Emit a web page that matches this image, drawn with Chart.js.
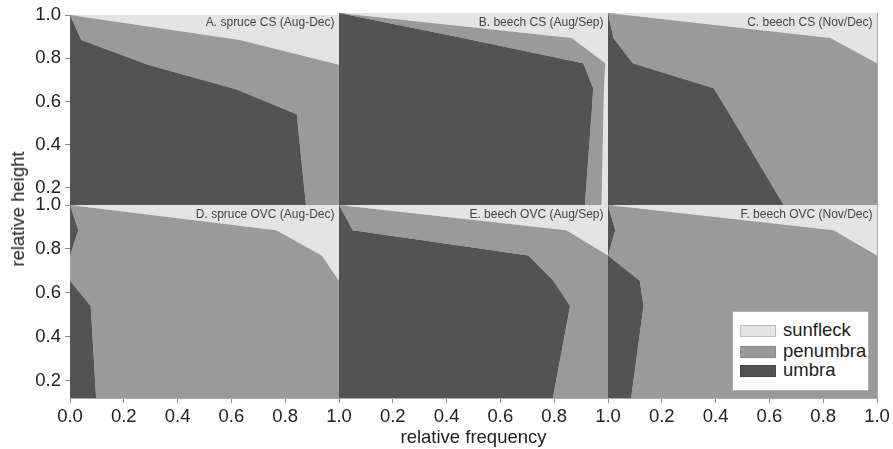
<!DOCTYPE html>
<html><head><meta charset="utf-8">
<script src="https://cdn.jsdelivr.net/npm/chart.js@4.4.1/dist/chart.umd.min.js"></script>
<style>
html,body{margin:0;padding:0;background:#fff;}
#wrap{position:relative;width:893px;height:449px;overflow:hidden;font-family:'Liberation Sans',Arial,Helvetica,sans-serif;}
#wrap canvas{position:absolute;left:0;top:0;}
.plabel{position:absolute;font-size:12px;line-height:12px;color:#444;white-space:nowrap;}
.atitle{position:absolute;font-size:18.5px;line-height:18px;color:#222;white-space:nowrap;}
.lg{position:absolute;}
.lgt{position:absolute;font-size:18.5px;line-height:18px;color:#222;white-space:nowrap;}
</style></head>
<body><div id="wrap"></div>
<script>
// relative heights at which the fractions were read
const heights = [1.0, 0.885, 0.77, 0.655, 0.54, 0.12];
// tick labels
const xTicksFirst = [0.0, 0.2, 0.4, 0.6, 0.8, 1.0];
const xTicksOther = [0.2, 0.4, 0.6, 0.8, 1.0];
const yTicks = [0.2, 0.4, 0.6, 0.8, 1.0];

// relative frequency of each light class per height (umbra / penumbra / sunfleck)
const umbraA    = [0, 0.042, 0.29, 0.62, 0.843, 0.877];
const penumbraA = [0, 0.59, 0.71, 0.38, 0.157, 0.123];
const sunfleckA = [1, 0.368, 0, 0, 0, 0];

const umbraB    = [0, 0.46, 0.908, 0.945, 0.939, 0.914];
const penumbraB = [0, 0.405, 0.082, 0.04, 0.044, 0.062];
const sunfleckB = [1, 0.135, 0.01, 0.015, 0.017, 0.024];

const umbraC    = [0, 0.02, 0.092, 0.393, 0.45, 0.653];
const penumbraC = [0, 0.807, 0.908, 0.607, 0.55, 0.347];
const sunfleckC = [1, 0.173, 0, 0, 0, 0];

const umbraD    = [0, 0.031, 0, 0, 0.077, 0.097];
const penumbraD = [0, 0.735, 0.936, 1, 0.923, 0.903];
const sunfleckD = [1, 0.234, 0.064, 0, 0, 0];

const umbraE    = [0, 0.051, 0.704, 0.797, 0.859, 0.795];
const penumbraE = [0, 0.794, 0.296, 0.203, 0.141, 0.205];
const sunfleckE = [1, 0.155, 0, 0, 0, 0];

const umbraF    = [0, 0.027, 0, 0.118, 0.132, 0.086];
const penumbraF = [0, 0.812, 1, 0.882, 0.868, 0.914];
const sunfleckF = [1, 0.161, 0, 0, 0, 0];

const panelTitles = ['A. spruce CS (Aug-Dec)', 'B. beech CS (Aug/Sep)', 'C. beech CS (Nov/Dec)',
                     'D. spruce OVC (Aug-Dec)', 'E. beech OVC (Aug/Sep)', 'F. beech OVC (Nov/Dec)'];
const seriesNames = ['sunfleck', 'penumbra', 'umbra'];

const C_SUN = '#e4e4e4', C_PEN = '#9a9a9a', C_UMB = '#535353';
const FRAME = '#aaaaaa';
const FONT = "'Liberation Sans', Arial, Helvetica, sans-serif";

const panels = [
  {u: umbraA, p: penumbraA, s: sunfleckA, col: 0, row: 0},
  {u: umbraB, p: penumbraB, s: sunfleckB, col: 1, row: 0},
  {u: umbraC, p: penumbraC, s: sunfleckC, col: 2, row: 0},
  {u: umbraD, p: penumbraD, s: sunfleckD, col: 0, row: 1},
  {u: umbraE, p: penumbraE, s: sunfleckE, col: 1, row: 1},
  {u: umbraF, p: penumbraF, s: sunfleckF, col: 2, row: 1}
];

const W = 893, H = 449;
const colLeft = [70, 339, 608], colRight = [339, 608, 877];
const rowTop = [13, 205], rowBottom = [205, 398];
const YW = 60, XH = 40;
const wrap = document.getElementById('wrap');

panels.forEach((pn, k) => {
  const c = pn.col, r = pn.row;
  const cv = document.createElement('canvas');
  cv.width = W; cv.height = H;
  cv.style.width = W + 'px'; cv.style.height = H + 'px';
  wrap.appendChild(cv);
  const mk = arr => heights.map((h, i) => ({x: arr[i], y: h}));
  const ds = (label, arr, color, fill) => ({
    label, data: mk(arr), backgroundColor: color, borderColor: color,
    borderWidth: 0, pointRadius: 0, pointHoverRadius: 0, fill, tension: 0,
    xAxisID: 'x', yAxisID: 'y'
  });
  const xt = c === 0 ? xTicksFirst : xTicksOther;
  new Chart(cv, {
    type: 'line',
    data: {datasets: [
      ds('umbra', pn.u, C_UMB, 'origin'),
      ds('penumbra', pn.p, C_PEN, '-1'),
      ds('sunfleck', pn.s, C_SUN, '-1')
    ]},
    options: {
      indexAxis: 'y',
      responsive: false, animation: false, devicePixelRatio: 1, events: [],
      layout: {autoPadding: false, padding: {
        left: colLeft[c] - YW, right: W - colRight[c], top: rowTop[r], bottom: H - rowBottom[r] - XH}},
      plugins: {legend: {display: false}, tooltip: {enabled: false}},
      scales: {
        x: {
          type: 'linear', position: 'bottom', stacked: true, min: 0, max: 1, z: 1,
          afterFit: s => { s.height = XH; },
          afterBuildTicks: s => { s.ticks = xt.map(v => ({value: v})); },
          ticks: {display: r === 1, padding: 3, color: '#222', font: {family: FONT, size: 18.5},
                  callback: v => Number(v).toFixed(1), autoSkip: false, maxRotation: 0},
          grid: {display: r === 1, drawOnChartArea: false, drawTicks: true, tickLength: 5, color: '#888'},
          border: {display: true, color: FRAME, width: 1}
        },
        y: {
          type: 'linear', position: 'left', min: 0.12, max: 1.0, z: 1,
          afterFit: s => { s.width = YW; },
          afterBuildTicks: s => { s.ticks = yTicks.map(v => ({value: v})); },
          ticks: {display: c === 0, padding: 4, color: '#222', font: {family: FONT, size: 18.5},
                  callback: v => Number(v).toFixed(1), autoSkip: false},
          grid: {display: c === 0, drawOnChartArea: false, drawTicks: true, tickLength: 5, color: '#888'},
          border: {display: true, color: FRAME, width: 1}
        },
        x2: {
          type: 'linear', position: 'top', z: 1,
          afterFit: s => { s.height = 0; },
          ticks: {display: false}, grid: {display: false},
          border: {display: true, color: FRAME, width: 1}
        },
        y2: {
          type: 'linear', position: 'right', z: 1,
          afterFit: s => { s.width = 0; },
          ticks: {display: false}, grid: {display: false},
          border: {display: true, color: FRAME, width: 1}
        }
      }
    }
  });
  const lab = document.createElement('div');
  lab.className = 'plabel';
  lab.textContent = panelTitles[k];
  lab.style.right = (W - colRight[c] + 4.5) + 'px';
  lab.style.top = (rowTop[r] + 2.5) + 'px';
  wrap.appendChild(lab);
});

// axis titles
const xt = document.createElement('div');
xt.className = 'atitle'; xt.textContent = 'relative frequency';
xt.style.left = '473.5px'; xt.style.top = '428px'; xt.style.transform = 'translateX(-50%)';
wrap.appendChild(xt);
const yt = document.createElement('div');
yt.className = 'atitle'; yt.textContent = 'relative height';
yt.style.left = '18px'; yt.style.top = '209px'; yt.style.transform = 'translate(-50%,-50%) rotate(-90deg)';
wrap.appendChild(yt);

// legend
const box = document.createElement('div');
box.className = 'lg';
Object.assign(box.style, {left: '732px', top: '311px', width: '137px', height: '80px',
  background: '#fff', border: '1px solid #b0b0b0', boxSizing: 'border-box'});
wrap.appendChild(box);
const lgColors = [C_SUN, C_PEN, C_UMB];
const lgBorders = ['#bdbdbd', '#8c8c8c', '#474747'];
const lgCenters = [331, 351.5, 371];
seriesNames.forEach((nm, i) => {
  const sw = document.createElement('div');
  sw.className = 'lg';
  Object.assign(sw.style, {left: '740px', top: (lgCenters[i] - 6) + 'px', width: '36px', height: '12px',
    background: lgColors[i], border: '1px solid ' + lgBorders[i], boxSizing: 'border-box'});
  wrap.appendChild(sw);
  const t = document.createElement('div');
  t.className = 'lgt'; t.textContent = nm;
  t.style.left = '783px'; t.style.top = (lgCenters[i] - 10) + 'px';
  wrap.appendChild(t);
});
</script>
</body></html>
